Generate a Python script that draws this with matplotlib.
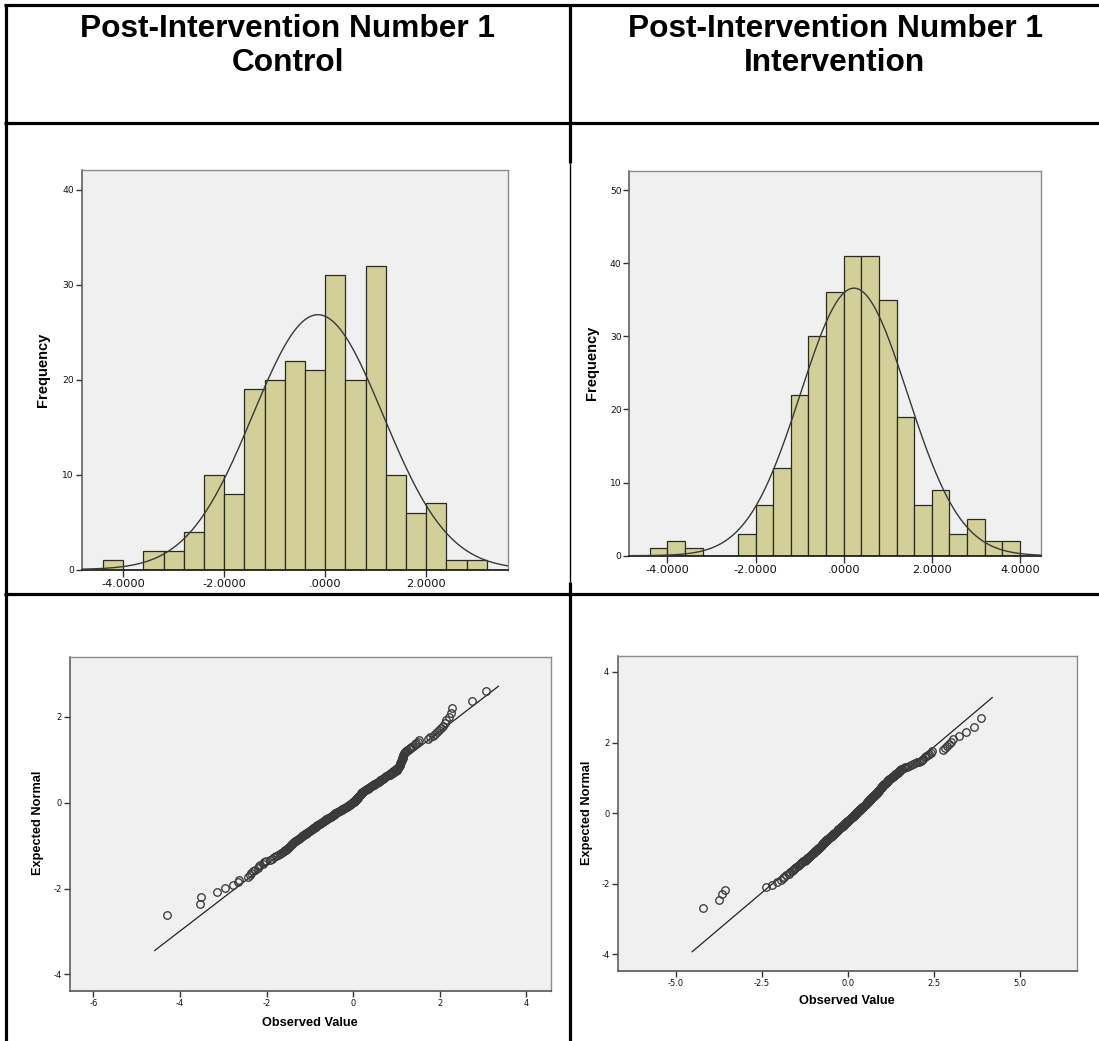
import numpy as np
import matplotlib
matplotlib.use("Agg")
import matplotlib.pyplot as plt
from matplotlib.lines import Line2D
from matplotlib.ticker import FuncFormatter
from statistics import NormalDist

plt.rcParams["axes.unicode_minus"] = False

# ---------------------------------------------------------------- data
column_titles = ["Post-Intervention Number 1\nControl",
                 "Post-Intervention Number 1\nIntervention"]

# observed post-intervention scores, sorted, one list per group
control_scores = [
    -4.29,
    -3.53, -3.51,
    -3.15, -2.96,
    -2.78, -2.67, -2.64, -2.43,
    -2.38, -2.35, -2.31, -2.27, -2.21, -2.18, -2.15, -2.09, -2.06, -2.02,
    -1.93, -1.88, -1.83, -1.79, -1.74, -1.70, -1.67, -1.62,
    -1.59, -1.57, -1.56, -1.53, -1.51, -1.49, -1.47, -1.44, -1.42, -1.41,
    -1.38, -1.36, -1.34, -1.32, -1.30, -1.28, -1.26, -1.24, -1.21,
    -1.19, -1.17, -1.15, -1.12, -1.10, -1.08, -1.06, -1.04, -1.02, -1.00,
    -0.98, -0.96, -0.94, -0.92, -0.90, -0.88, -0.86, -0.85, -0.83, -0.81,
    -0.79, -0.77, -0.75, -0.74, -0.72, -0.70, -0.68, -0.66, -0.64, -0.62,
    -0.60, -0.58, -0.56, -0.54, -0.52, -0.50, -0.48, -0.47, -0.45, -0.44,
    -0.42, -0.41,
    -0.39, -0.37, -0.35, -0.33, -0.31, -0.29, -0.27, -0.25, -0.23, -0.21,
    -0.19, -0.17, -0.15, -0.13, -0.11, -0.09, -0.07, -0.05, -0.04, -0.03,
    -0.02,
    0.01, 0.02, 0.03, 0.04, 0.05, 0.06, 0.07, 0.08, 0.09, 0.10,
    0.11, 0.12, 0.13, 0.14, 0.15, 0.16, 0.17, 0.18, 0.19, 0.20,
    0.21, 0.22, 0.24, 0.25, 0.27, 0.29, 0.31, 0.33, 0.35, 0.37, 0.39,
    0.41, 0.43, 0.45, 0.47, 0.49, 0.51, 0.53, 0.55, 0.57, 0.59,
    0.61, 0.62, 0.64, 0.66, 0.68, 0.70, 0.72, 0.74, 0.76, 0.78,
    0.82, 0.85, 0.88, 0.90, 0.93, 0.95, 0.97, 0.99, 1.00, 1.01,
    1.02, 1.03, 1.04, 1.05, 1.06, 1.07, 1.08, 1.08, 1.09, 1.10,
    1.10, 1.11, 1.12, 1.12, 1.13, 1.14, 1.15, 1.15, 1.16, 1.17,
    1.18, 1.19,
    1.22, 1.25, 1.29, 1.31, 1.34, 1.38, 1.42, 1.46, 1.49, 1.52,
    1.73, 1.78, 1.84, 1.88, 1.93, 1.98,
    2.03, 2.07, 2.12, 2.15, 2.22, 2.26, 2.29,
    2.75,
    3.06,
]

intervention_scores = [
    -4.20,
    -3.75, -3.65,
    -3.56,
    -2.38, -2.21, -2.06,
    -1.95, -1.89, -1.84, -1.78, -1.72, -1.68, -1.63,
    -1.58, -1.55, -1.52, -1.49, -1.46, -1.43, -1.40, -1.36, -1.33, -1.29,
    -1.25, -1.22,
    -1.19, -1.17, -1.15, -1.13, -1.11, -1.09, -1.07, -1.05, -1.03, -1.01,
    -0.99, -0.97, -0.95, -0.93, -0.91, -0.89, -0.87, -0.86, -0.85, -0.83,
    -0.82, -0.81,
    -0.79, -0.78, -0.76, -0.75, -0.74, -0.72, -0.71, -0.70, -0.68, -0.67,
    -0.66, -0.64, -0.63, -0.62, -0.60, -0.59, -0.58, -0.56, -0.55, -0.54,
    -0.52, -0.51, -0.50, -0.48, -0.47, -0.46, -0.44, -0.43, -0.42, -0.41,
    -0.39, -0.38, -0.37, -0.35, -0.34, -0.33, -0.32, -0.31, -0.30, -0.29,
    -0.28, -0.27, -0.25, -0.24, -0.23, -0.22, -0.21, -0.20, -0.19, -0.18,
    -0.17, -0.16, -0.15, -0.13, -0.12, -0.11, -0.10, -0.09, -0.08, -0.07,
    -0.06, -0.05, -0.04, -0.03, -0.02, -0.01,
    0.01, 0.02, 0.03, 0.04, 0.05, 0.06, 0.07, 0.08, 0.09, 0.10,
    0.11, 0.12, 0.12, 0.13, 0.14, 0.15, 0.16, 0.17, 0.18, 0.19,
    0.20, 0.21, 0.22, 0.23, 0.24, 0.25, 0.26, 0.27, 0.27, 0.28,
    0.29, 0.30, 0.31, 0.32, 0.33, 0.34, 0.35, 0.36, 0.37, 0.38, 0.39,
    0.41, 0.42, 0.43, 0.44, 0.45, 0.46, 0.47, 0.48, 0.49, 0.50,
    0.51, 0.52, 0.53, 0.54, 0.55, 0.55, 0.56, 0.57, 0.58, 0.59,
    0.60, 0.61, 0.62, 0.63, 0.63, 0.64, 0.65, 0.66, 0.67, 0.68,
    0.69, 0.70, 0.71, 0.72, 0.73, 0.74, 0.75, 0.76, 0.77, 0.78, 0.79,
    0.81, 0.82, 0.83, 0.84, 0.85, 0.86, 0.87, 0.88, 0.89, 0.90,
    0.91, 0.92, 0.93, 0.94, 0.95, 0.96, 0.97, 0.98, 0.99, 1.00,
    1.01, 1.02, 1.03, 1.04, 1.05, 1.06, 1.08, 1.10, 1.12, 1.13,
    1.14, 1.15, 1.16, 1.17, 1.18,
    1.21, 1.23, 1.25, 1.27, 1.29, 1.31, 1.33, 1.35, 1.37, 1.39,
    1.41, 1.43, 1.45, 1.47, 1.49, 1.51, 1.53, 1.56, 1.59,
    1.63, 1.68, 1.72, 1.78, 1.84, 1.91, 1.96,
    2.03, 2.08, 2.12, 2.16, 2.20, 2.24, 2.28, 2.33, 2.37,
    2.42, 2.46, 2.78,
    2.84, 2.90, 2.95, 3.00, 3.06,
    3.24, 3.43,
    3.68, 3.88,
]

# histogram bins (start, width, number of bins)
control_bins = (-4.4, 0.4, 19)
intervention_bins = (-4.4, 0.4, 21)

hist_control_xticks = [-4, -2, 0, 2]
hist_control_yticks = [0, 10, 20, 30, 40]
hist_interv_xticks = [-4, -2, 0, 2, 4]
hist_interv_yticks = [0, 10, 20, 30, 40, 50]

qq_control_xticks = [-6, -4, -2, 0, 2, 4]
qq_control_yticks = [-4, -2, 0, 2]
qq_interv_xticks = [-5.0, -2.5, 0.0, 2.5, 5.0]
qq_interv_yticks = [-4, -2, 0, 2, 4]

# ---------------------------------------------------------------- style
W, H, DPI = 1099, 1041, 100
BG = "#F0F0F0"
BAR = "#D3CF99"
BAR_EDGE = "#2B2B22"
DARK = "#383838"
FRAME = "#8C8C8C"
LABEL_FONT = "Liberation Sans"
TICK_FONT = "DejaVu Sans"

fig = plt.figure(figsize=(W / DPI, H / DPI), dpi=DPI)
fig.patch.set_facecolor("white")


def axes_px(left, top, right, bottom):
    return fig.add_axes([left / W, 1 - bottom / H, (right - left) / W,
                         (bottom - top) / H])


def normal_pdf(x, m, s):
    return np.exp(-0.5 * ((x - m) / s) ** 2) / (s * np.sqrt(2 * np.pi))


def style_frame(ax, bottom_color):
    for side in ("top", "right"):
        ax.spines[side].set_color(FRAME)
        ax.spines[side].set_linewidth(1.0)
    ax.spines["left"].set_color("#555555")
    ax.spines["left"].set_linewidth(1.1)
    ax.spines["bottom"].set_color(bottom_color)
    ax.spines["bottom"].set_linewidth(1.2)


def hist_label(v, _pos):
    s = f"{v:.4f}"
    if s.startswith("0."):
        s = s[1:]
    elif s.startswith("-0."):
        s = "-" + s[2:]
    return s


def draw_histogram(ax, values, bins, xlim, ylim, xticks, yticks):
    vals = np.asarray(values, dtype=float)
    start, width, nbins = bins
    edges = start + width * np.arange(nbins + 1)
    ax.set_facecolor(BG)
    ax.hist(vals, bins=edges, color=BAR, edgecolor=BAR_EDGE, linewidth=0.9,
            zorder=2)
    m, s = vals.mean(), vals.std(ddof=1)
    xs = np.linspace(xlim[0], xlim[1], 500)
    ax.plot(xs, len(vals) * width * normal_pdf(xs, m, s), color=DARK,
            lw=1.0, zorder=3)
    ax.set_xlim(*xlim)
    ax.set_ylim(*ylim)
    ax.set_xticks(xticks)
    ax.set_yticks(yticks)
    ax.xaxis.set_major_formatter(FuncFormatter(hist_label))
    ax.tick_params(axis="x", length=5, width=1.0, color="#333333",
                   labelsize=8.2, pad=2)
    ax.tick_params(axis="y", length=4, width=1.0, color="#333333",
                   labelsize=6.6, pad=1.5)
    for lab in ax.get_xticklabels() + ax.get_yticklabels():
        lab.set_family(TICK_FONT)
        lab.set_color("#111111")
    style_frame(ax, "#111111")
    ax.set_ylabel("Frequency", family=LABEL_FONT, fontweight="bold",
                  fontsize=10.5)
    ax.yaxis.set_label_coords(-0.074, 0.5)


def draw_qq(ax, values, xlim, ylim, xticks, yticks, xfmt, label_size):
    obs = np.sort(np.asarray(values, dtype=float))
    n = len(obs)
    nd = NormalDist()
    expected = np.array([nd.inv_cdf(r / (n + 1)) for r in range(1, n + 1)])
    m, s = obs.mean(), obs.std(ddof=1)
    pad = 0.04 * (obs[-1] - obs[0])
    lx = np.array([obs[0] - pad, obs[-1] + pad])
    ax.set_facecolor(BG)
    ax.plot(lx, (lx - m) / s, color="#222222", lw=0.9, zorder=2)
    ax.plot(obs, expected, linestyle="none", marker="o", markersize=5.4,
            markerfacecolor="none", markeredgecolor="#3a3a3a",
            markeredgewidth=0.95, zorder=3)
    ax.set_xlim(*xlim)
    ax.set_ylim(*ylim)
    ax.set_xticks(xticks)
    ax.set_yticks(yticks)
    ax.xaxis.set_major_formatter(FuncFormatter(xfmt))
    ax.yaxis.set_major_formatter(FuncFormatter(int_label))
    ax.tick_params(axis="both", length=4, width=1.0, color="#333333",
                   labelsize=label_size, pad=2)
    for lab in ax.get_xticklabels() + ax.get_yticklabels():
        lab.set_family(TICK_FONT)
        lab.set_color("#111111")
    style_frame(ax, "#555555")
    ax.set_xlabel("Observed Value", family=LABEL_FONT, fontweight="bold",
                  fontsize=9.2)
    ax.set_ylabel("Expected Normal", family=LABEL_FONT, fontweight="bold",
                  fontsize=9.2)


def int_label(v, _pos):
    return f"{v:.0f}"


def one_dec_label(v, _pos):
    return f"{v:.1f}"


# ---------------------------------------------------------------- table grid
def grid_line(x0, y0, x1, y1, lw=2.3):
    fig.add_artist(Line2D([x0 / W, x1 / W], [1 - y0 / H, 1 - y1 / H],
                          transform=fig.transFigure, color="black", lw=lw,
                          solid_capstyle="butt"))


grid_line(4, 5, W, 5)
grid_line(6, 4, 6, H)
grid_line(4, 123, W, 123)
grid_line(4, 594, W, 594)
grid_line(570, 4, 570, 163)
grid_line(570, 163, 570, 582, lw=1.0)
grid_line(570, 582, 570, H)

# column headings
for cx, title in zip((288, 835), column_titles):
    line1, line2 = title.split("\n")
    fig.text(cx / W, 1 - 37 / H, line1, ha="center", va="baseline",
             family=LABEL_FONT, fontweight="bold", fontsize=22.8)
    fig.text(cx / W, 1 - 71 / H, line2, ha="center", va="baseline",
             family=LABEL_FONT, fontweight="bold", fontsize=22.8)

# ---------------------------------------------------------------- panels
ax1 = axes_px(81.7, 170, 508, 569.5)
draw_histogram(ax1, control_scores, control_bins, (-4.82, 3.62), (0, 42.1),
               hist_control_xticks, hist_control_yticks)

ax2 = axes_px(629.3, 171, 1040.7, 555.7)
draw_histogram(ax2, intervention_scores, intervention_bins, (-4.864, 4.47),
               (0, 52.6), hist_interv_xticks, hist_interv_yticks)

ax3 = axes_px(70, 656.7, 550.7, 990.7)
draw_qq(ax3, control_scores, (-6.54, 4.56), (-4.38, 3.40),
        qq_control_xticks, qq_control_yticks, int_label, 6.0)
ax3.yaxis.set_label_coords(-0.054, 0.502)
ax3.xaxis.set_label_coords(0.499, -0.078)

ax4 = axes_px(617.7, 655.7, 1077, 970.7)
draw_qq(ax4, intervention_scores, (-6.69, 6.67), (-4.46, 4.46),
        qq_interv_xticks, qq_interv_yticks, one_dec_label, 6.0)
ax4.yaxis.set_label_coords(-0.054, 0.5)
ax4.xaxis.set_label_coords(0.499, -0.077)

fig.savefig("out.png", dpi=DPI, facecolor="white")
